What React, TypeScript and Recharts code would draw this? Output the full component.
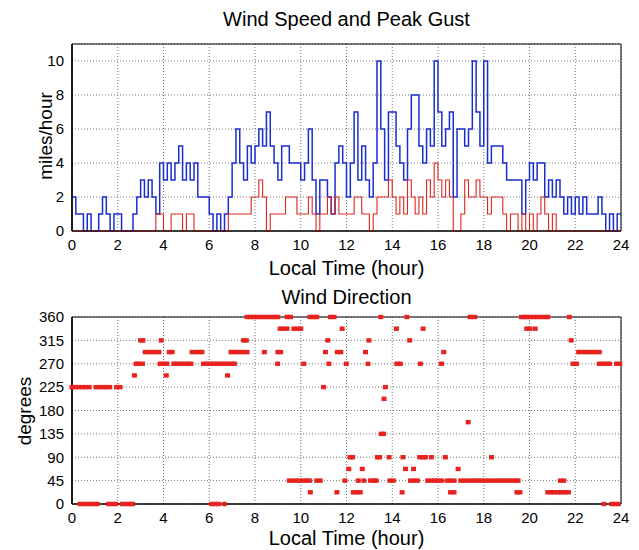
import React from "react";
import {
  LineChart,
  Line,
  XAxis,
  YAxis,
  CartesianGrid,
  ReferenceArea,
  ScatterChart,
  Scatter,
} from "recharts";

// 10-minute samples, 00:00 .. 24:00 (mph)
const gustMph = [
  2, 1, 1, 0, 1, 0,
  0, 1, 2, 1, 0, 1,
  1, 0, 0, 0, 1, 2,
  3, 2, 3, 2, 1, 4,
  3, 4, 3, 4, 5, 3,
  4, 3, 4, 2, 2, 2,
  1, 0, 1, 0, 1, 2,
  4, 6, 4, 3, 5, 4,
  5, 6, 5, 7, 5, 4,
  3, 5, 5, 4, 4, 4,
  3, 4, 6, 3, 1, 3,
  3, 2, 1, 4, 5, 4,
  2, 4, 7, 3, 5, 3,
  2, 4, 10, 6, 3, 7,
  7, 5, 4, 3, 6, 8,
  8, 5, 4, 6, 5, 10,
  7, 5, 6, 7, 2, 6,
  6, 5, 6, 10, 7, 5,
  10, 4, 5, 5, 5, 4,
  3, 3, 3, 3, 1, 3,
  4, 3, 4, 4, 2, 3,
  2, 3, 2, 1, 2, 1,
  2, 1, 2, 1, 1, 1,
  2, 1, 0, 1, 0, 1,
  1,
];

const speedMph = [
  0, 0, 0, 0, 0, 0,
  0, 0, 0, 0, 0, 0,
  0, 0, 0, 0, 0, 0,
  0, 0, 0, 0, 1, 1,
  0, 0, 1, 1, 1, 0,
  1, 1, 0, 0, 0, 0,
  0, 0, 0, 0, 0, 1,
  1, 1, 1, 1, 1, 2,
  2, 3, 2, 0, 1, 1,
  1, 1, 2, 2, 2, 1,
  1, 1, 2, 1, 0, 1,
  1, 2, 1, 2, 1, 1,
  1, 1, 2, 2, 1, 1,
  0, 1, 2, 2, 2, 3,
  2, 1, 2, 1, 3, 2,
  1, 2, 1, 3, 2, 4,
  3, 2, 3, 2, 0, 0,
  1, 3, 2, 2, 3, 2,
  2, 1, 2, 2, 2, 1,
  0, 1, 1, 0, 1, 0,
  1, 0, 1, 2, 1, 0,
  1, 0, 0, 0, 0, 0,
  0, 0, 0, 0, 0, 0,
  0, 0, 0, 0, 0, 0,
  0,
];

// Wind direction observations: [hour, degrees]
const directionObs: [number, number][] = [
  [0.0, 225], [0.15, 225], [0.3, 225], [0.45, 225], [0.6, 225], [0.75, 225],
  [0.35, 0], [0.5, 0], [0.65, 0], [0.8, 0], [0.95, 0], [1.1, 0],
  [1.05, 225], [1.2, 225], [1.35, 225], [1.5, 225], [1.65, 225],
  [1.6, 0], [1.75, 0], [1.9, 0],
  [1.95, 225], [2.1, 225],
  [2.2, 0], [2.35, 0], [2.5, 0], [2.65, 0],
  [2.73, 247.5], [2.8, 270], [2.9, 270],
  [3.0, 315], [3.1, 315], [3.08, 270],
  [3.2, 292.5], [3.35, 292.5], [3.5, 292.5], [3.65, 292.5], [3.8, 292.5],
  [3.9, 315],
  [3.85, 270], [4.0, 270], [4.15, 270], [4.12, 247.5],
  [4.25, 292.5], [4.38, 292.5],
  [4.45, 270], [4.6, 270], [4.75, 270], [4.9, 270], [5.05, 270], [5.2, 270],
  [5.25, 292.5], [5.4, 292.5], [5.55, 292.5], [5.68, 292.5],
  [5.75, 270], [5.9, 270], [6.05, 270], [6.2, 270], [6.35, 270],
  [6.1, 0], [6.25, 0], [6.4, 0], [6.66, 0],
  [6.5, 270], [6.65, 270], [6.8, 270], [6.95, 270], [7.1, 270],
  [6.8, 247.5],
  [6.95, 292.5], [7.05, 292.5], [7.2, 292.5], [7.35, 292.5], [7.5, 292.5], [7.65, 292.5],
  [7.5, 315], [7.62, 315],
  [7.65, 360], [7.8, 360], [7.95, 360], [8.1, 360], [8.25, 360], [8.4, 360],
  [8.55, 360], [8.7, 360], [8.85, 360], [9.0, 360],
  [8.41, 292.5], [9.0, 292.5], [9.12, 292.5], [8.99, 270],
  [9.1, 337.5], [9.25, 337.5], [9.4, 337.5],
  [9.4, 360], [9.55, 360],
  [9.5, 45], [9.65, 45], [9.8, 45], [9.95, 45], [10.1, 45], [10.25, 45], [10.38, 45],
  [9.7, 337.5], [9.85, 337.5], [10.0, 337.5],
  [10.13, 270],
  [10.4, 360], [10.55, 360], [10.7, 360],
  [10.42, 22.5],
  [10.7, 45], [10.85, 45],
  [11.0, 225], [11.08, 292.5], [11.18, 315], [11.23, 270],
  [11.3, 360], [11.45, 360],
  [11.58, 22.5],
  [11.6, 292.5], [11.75, 292.5],
  [11.81, 337.5], [11.93, 45], [11.99, 270],
  [12.1, 67.5], [12.15, 90], [12.27, 90],
  [12.3, 22.5], [12.45, 22.5], [12.6, 22.5],
  [12.51, 45], [12.69, 67.5], [12.76, 45],
  [12.83, 292.5], [12.94, 270], [12.98, 315],
  [13.05, 45], [13.2, 45], [13.3, 45],
  [13.35, 90], [13.45, 90],
  [13.52, 135], [13.62, 135],
  [13.5, 360], [13.64, 202.5], [13.7, 225],
  [13.86, 90], [13.9, 45], [14.05, 45],
  [14.18, 337.5], [14.2, 270], [14.35, 270],
  [14.43, 22.5], [14.47, 90], [14.58, 67.5], [14.64, 360], [14.76, 315],
  [14.8, 45], [14.95, 45], [15.1, 45], [14.93, 67.5],
  [15.2, 90], [15.35, 90], [15.45, 90],
  [15.23, 270], [15.35, 337.5],
  [15.55, 45], [15.7, 45], [15.85, 45], [16.0, 45], [16.15, 45],
  [15.71, 90],
  [16.15, 270], [16.25, 292.5], [16.32, 90],
  [16.4, 45], [16.55, 45], [16.7, 45],
  [16.55, 22.5], [16.7, 22.5],
  [16.88, 67.5],
  [17.0, 45], [17.15, 45], [17.3, 45],
  [17.32, 157.5],
  [17.4, 360], [17.6, 360],
  [17.45, 45], [17.6, 45], [17.75, 45], [17.9, 45], [18.05, 45], [18.2, 45],
  [18.35, 45], [18.5, 45], [18.65, 45], [18.8, 45], [18.95, 45], [19.1, 45],
  [19.25, 45], [19.4, 45], [19.5, 45],
  [18.34, 90],
  [19.45, 22.5], [19.58, 22.5],
  [19.65, 360], [19.8, 360], [19.9, 360],
  [19.88, 337.5], [20.02, 337.5],
  [20.05, 360], [20.2, 360], [20.35, 360], [20.5, 360], [20.65, 360], [20.8, 360],
  [20.25, 337.5],
  [20.8, 22.5], [20.95, 22.5], [21.1, 22.5], [21.25, 22.5], [21.4, 22.5], [21.55, 22.5], [21.7, 22.5],
  [21.35, 45], [21.5, 45],
  [21.74, 360], [21.82, 315],
  [21.9, 270], [22.05, 270],
  [22.15, 292.5], [22.3, 292.5], [22.45, 292.5], [22.6, 292.5], [22.75, 292.5], [22.9, 292.5], [23.05, 292.5],
  [23.05, 270], [23.2, 270], [23.35, 270], [23.5, 270],
  [23.26, 0], [23.6, 0], [23.75, 0], [23.88, 0],
  [23.8, 270], [23.95, 270],
];

const hourTicks = [0, 2, 4, 6, 8, 10, 12, 14, 16, 18, 20, 22, 24];
const mphTicks = [0, 2, 4, 6, 8, 10];
const degTicks = [0, 45, 90, 135, 180, 225, 270, 315, 360];

const speedTable = gustMph.map((g, i) => ({
  h: i / 6,
  gust: g,
  speed: speedMph[i],
}));

const dirTable = directionObs.map(([h, d]) => ({ h, d }));

const FONT = '"Liberation Sans", Arial, Helvetica, sans-serif';
const tickStyle = { fontSize: 15, fill: "#000", fontFamily: FONT };

const textBase: React.CSSProperties = {
  position: "absolute",
  fontFamily: FONT,
  color: "#000",
  whiteSpace: "nowrap",
  lineHeight: "1",
};

const Square = (props: any) => {
  const { cx, cy } = props;
  if (cx == null || cy == null) return null;
  return <rect x={cx - 2.5} y={cy - 2.2} width={5} height={4.4} fill="#e8221e" />;
};

export default function App() {
  return (
    <div
      style={{
        position: "absolute",
        left: 0,
        top: 0,
        width: 639,
        height: 550,
        background: "#fff",
        overflow: "hidden",
      }}
    >
      <div style={{ ...textBase, left: 72, width: 549, top: 9, fontSize: 20, textAlign: "center" }}>
        Wind Speed and Peak Gust
      </div>
      <div
        style={{
          ...textBase,
          left: 45,
          top: 136,
          fontSize: 19,
          transform: "translate(-50%, -50%) rotate(-90deg)",
        }}
      >
        miles/hour
      </div>
      <div style={{ ...textBase, left: 72, width: 549, top: 258, fontSize: 20, textAlign: "center" }}>
        Local Time (hour)
      </div>

      <div style={{ position: "absolute", left: 0, top: 0 }}>
        <LineChart
          width={639}
          height={282}
          data={speedTable}
          margin={{ top: 44, right: 18, bottom: 21, left: 32 }}
        >
          <CartesianGrid stroke="#777" strokeDasharray="1 2" />
          <XAxis
            dataKey="h"
            type="number"
            domain={[0, 24]}
            ticks={hourTicks}
            height={30}
            tickLine={false}
            axisLine={{ stroke: "#000" }}
            tick={tickStyle}
            interval={0}
          />
          <YAxis
            type="number"
            domain={[0, 11]}
            ticks={mphTicks}
            width={40}
            tickLine={false}
            axisLine={{ stroke: "#000", strokeWidth: 1.5 }}
            tick={tickStyle}
            interval={0}
          />
          <ReferenceArea x1={0} x2={24} y1={0} y2={11} fill="none" stroke="#000" strokeWidth={1} />
          <Line
            dataKey="gust"
            type="stepAfter"
            stroke="#1a2ecf"
            strokeWidth={1.5}
            dot={false}
            isAnimationActive={false}
          />
          <Line
            dataKey="speed"
            type="stepAfter"
            stroke="#e0241e"
            strokeWidth={1.1}
            dot={false}
            isAnimationActive={false}
          />
        </LineChart>
      </div>

      <div style={{ ...textBase, left: 72, width: 549, top: 287, fontSize: 20, textAlign: "center" }}>
        Wind Direction
      </div>
      <div
        style={{
          ...textBase,
          left: 24,
          top: 411,
          fontSize: 19,
          transform: "translate(-50%, -50%) rotate(-90deg)",
        }}
      >
        degrees
      </div>
      <div style={{ ...textBase, left: 72, width: 549, top: 528, fontSize: 20, textAlign: "center" }}>
        Local Time (hour)
      </div>

      <div style={{ position: "absolute", left: 0, top: 282 }}>
        <ScatterChart
          width={639}
          height={268}
          margin={{ top: 35, right: 18, bottom: 16, left: 32 }}
        >
          <CartesianGrid stroke="#777" strokeDasharray="1 2" />
          <XAxis
            dataKey="h"
            type="number"
            domain={[0, 24]}
            ticks={hourTicks}
            height={30}
            tickLine={false}
            axisLine={{ stroke: "#000" }}
            tick={tickStyle}
            interval={0}
          />
          <YAxis
            dataKey="d"
            type="number"
            domain={[0, 360]}
            ticks={degTicks}
            width={40}
            tickLine={false}
            axisLine={{ stroke: "#000", strokeWidth: 1.5 }}
            tick={tickStyle}
            interval={0}
          />
          <ReferenceArea x1={0} x2={24} y1={0} y2={360} fill="none" stroke="#000" strokeWidth={1} />
          <Scatter data={dirTable} shape={<Square />} isAnimationActive={false} />
        </ScatterChart>
      </div>
    </div>
  );
}
